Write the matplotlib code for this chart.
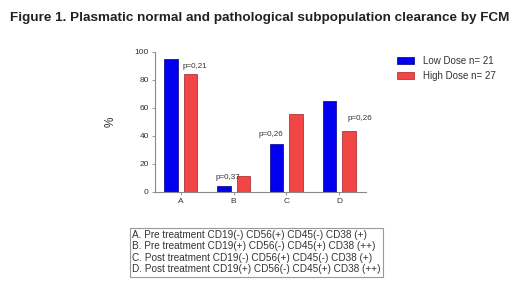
import matplotlib
matplotlib.use("Agg")
import matplotlib.pyplot as plt
import numpy as np

plt.rcParams['font.family'] = ['Liberation Sans', 'DejaVu Sans']

categories = ["A", "B", "C", "D"]
low_dose = [94.5, 4.3, 34.2, 64.8]
high_dose = [83.8, 11.4, 55.6, 43.3]
p_labels = ["p=0,21", "p=0,37", "p=0,26", "p=0,26"]
series_names = ["Low Dose n= 21", "High Dose n= 27"]
yticks = [0, 20, 40, 60, 80, 100]
descriptions = [
    "A. Pre treatment CD19(-) CD56(+) CD45(-) CD38 (+)",
    "B. Pre treatment CD19(+) CD56(-) CD45(+) CD38 (++)",
    "C. Post treatment CD19(-) CD56(+) CD45(-) CD38 (+)",
    "D. Post treatment CD19(+) CD56(-) CD45(+) CD38 (++)",
]

W, H = 520, 286
fig = plt.figure(figsize=(W / 100, H / 100), dpi=100)
fig.patch.set_facecolor("white")

def fx(px):
    return px / W

def fy(py):
    return 1 - py / H

ax = fig.add_axes([fx(155), fy(191.7), fx(366 - 155), (191.7 - 51.5) / H])
x = np.arange(len(categories))
bw = 0.256
off = 0.185
b1 = ax.bar(x - off, low_dose, bw, color="#0000ee", edgecolor="#000080", linewidth=0.5, label=series_names[0])
b2 = ax.bar(x + off, high_dose, bw, color="#f24545", edgecolor="#a02020", linewidth=0.5, label=series_names[1])

ax.set_xlim(-0.49, 3.51)
ax.set_ylim(0, 100)
ax.set_yticks(yticks)
ax.set_xticks(x)
ax.set_xticklabels(categories)
for s in ["top", "right"]:
    ax.spines[s].set_visible(False)
for s in ["left", "bottom"]:
    ax.spines[s].set_color("#888888")
    ax.spines[s].set_linewidth(0.8)
ax.tick_params(axis="both", labelsize=6, colors="#888888", labelcolor="#333333",
               length=2.5, width=0.6, pad=2)
ax.set_ylabel("%", fontsize=8.5, color="#333333", labelpad=13)

# p-value labels positions (data coords)
p_pos = [(x[0] + 0.27, 87.0), (x[1] - 0.1, 7.6), (x[2] - 0.3, 38.5), (x[3] + 0.4, 50.0)]
for (px, py), t in zip(p_pos, p_labels):
    ax.text(px, py, t, fontsize=5.8, color="#333333", ha="center", va="bottom")

leg = fig.legend(handles=[b1, b2], labels=series_names, loc="upper left",
                 bbox_to_anchor=(fx(393), fy(52)), frameon=False, fontsize=7,
                 handlelength=1.8, handleheight=0.7, handletextpad=0.9,
                 labelspacing=0.55, borderaxespad=0)
for t in leg.get_texts():
    t.set_color("#333333")

fig.text(fx(260), fy(18), "Figure 1. Plasmatic normal and pathological subpopulation clearance by FCM",
         fontsize=9.7, fontweight="bold", ha="center", va="center", color="#222222")

fig.text(fx(132), fy(230), "\n".join(descriptions), fontsize=7.2, color="#333333",
         ha="left", va="top", linespacing=1.18,
         bbox=dict(boxstyle="square,pad=0.25", facecolor="white", edgecolor="#999999", linewidth=0.8))

fig.savefig("out.png", dpi=100, facecolor="white")
